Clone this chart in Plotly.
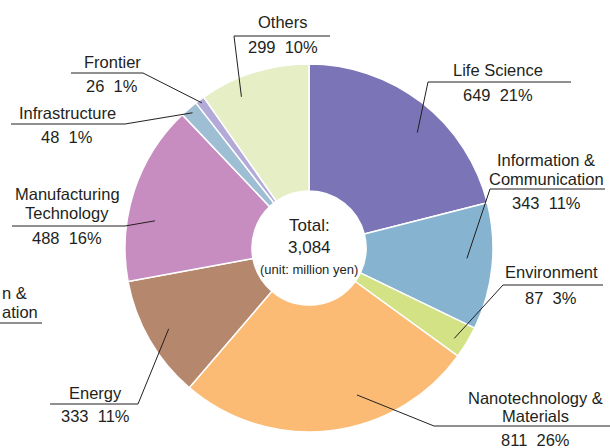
import math
import plotly.graph_objects as go

# ---- data ----
categories = ["Life Science", "Information &<br>Communication", "Environment",
              "Nanotechnology &<br>Materials", "Energy", "Manufacturing<br>Technology",
              "Infrastructure", "Frontier", "Others"]
values = [649, 343, 87, 811, 333, 488, 48, 26, 299]
percents = ["21%", "11%", "3%", "26%", "11%", "16%", "1%", "1%", "10%"]
colors = ["#7B74B6", "#86B4D0", "#D3E284", "#FBBB75", "#B5876C", "#C78DC0",
          "#9EBED3", "#B4AAD8", "#E6EEC6"]
total_text = "3,084"

W, H = 610, 448
CX, CY, R = 309, 248, 184

def px(x):
    return x / W

def py(y):
    return 1 - y / H

fig = go.Figure(go.Pie(
    values=values, labels=categories, sort=False, direction="clockwise", rotation=0,
    hole=0.31, textinfo="none", hoverinfo="label+value",
    marker=dict(colors=colors, line=dict(color="white", width=1.5)),
    domain=dict(x=[px(CX - R), px(CX + R)], y=[py(CY + R), py(CY - R)]),
    showlegend=False,
))

# label layout: (name center x, name line ys, line y, line x0, line x1, anchor x, value y, frac in slice, radius frac)
layout_spec = [
    (498, [70], 82, 428, 571, 428, 95, 0.57, 0.86),
    (546, [160, 179], 189, 490, 605, 490, 203, 0.45, 0.86),
    (551, [272], 285, 503, 603, 503, 298, 0.6, 0.93),
    (535, [398, 416], 426, 434, 610, 434, 440, 0.38, 0.84),
    (95, [393], 404, 50, 138, 138, 416, 0.5, 0.88),
    (67, [194, 213], 226, 12, 125, 125, 238, 0.36, 0.85),
    (67, [113], 124, 11, 125, 125, 137, 0.5, 0.97),
    (112, [62], 73, 71, 143, 143, 86, 0.5, 0.98),
    (283, [22], 36, 234, 330, 234, 47, 0.31, 0.9),
]

tot = sum(values)
angles = []
a = 0.0
for v in values:
    angles.append((a, a + 360.0 * v / tot))
    a += 360.0 * v / tot

FAM = "Liberation Sans, Arial, sans-serif"
font = dict(family=FAM, size=16.5, color="#231F20")
annotations = []
shapes = []
line_style = dict(color="#231F20", width=1)
for i, (cat, spec) in enumerate(zip(categories, layout_spec)):
    nx, nys, ly, lx0, lx1, ax_, vy, frac, rf = spec
    parts = cat.split("<br>")
    for t, yy in zip(parts, nys):
        annotations.append(dict(x=px(nx), y=py(yy), xref="paper", yref="paper", text=t,
                                showarrow=False, xanchor="center", yanchor="middle", font=font))
    annotations.append(dict(x=px(nx), y=py(vy), xref="paper", yref="paper",
                            text=f"{values[i]}  {percents[i]}", showarrow=False,
                            xanchor="center", yanchor="middle", font=font))
    shapes.append(dict(type="line", xref="paper", yref="paper", x0=px(lx0), x1=px(lx1),
                       y0=py(ly), y1=py(ly), line=line_style))
    s, e = angles[i]
    th = math.radians(s + frac * (e - s))
    ex = CX + rf * R * math.sin(th)
    ey = CY - rf * R * math.cos(th)
    shapes.append(dict(type="line", xref="paper", yref="paper", x0=px(ax_), y0=py(ly),
                       x1=px(ex), y1=py(ey), line=line_style))

# centre text
annotations += [
    dict(x=px(CX), y=py(225), xref="paper", yref="paper", text="Total:", showarrow=False,
         font=dict(family=FAM, size=17, color="#231F20")),
    dict(x=px(CX), y=py(247), xref="paper", yref="paper", text=total_text, showarrow=False,
         font=dict(family=FAM, size=17, color="#231F20")),
    dict(x=px(CX), y=py(269), xref="paper", yref="paper", text="(unit: million yen)",
         showarrow=False, font=dict(family=FAM, size=13, color="#231F20")),
]

# partially visible neighbouring label at left edge
annotations += [
    dict(x=px(0), y=py(293), xref="paper", yref="paper", text="n &", showarrow=False,
         xanchor="left", yanchor="middle", font=font),
    dict(x=px(0), y=py(312), xref="paper", yref="paper", text="ation", showarrow=False,
         xanchor="left", yanchor="middle", font=font),
]
shapes.append(dict(type="line", xref="paper", yref="paper", x0=0, x1=px(42),
                   y0=py(323), y1=py(323), line=line_style))

fig.update_layout(width=W, height=H, margin=dict(l=0, r=0, t=0, b=0),
                  paper_bgcolor="white", plot_bgcolor="white",
                  annotations=annotations, shapes=shapes)
fig.write_html("out.html", config={"displayModeBar": False},
               post_script="document.body.style.margin='0';document.body.style.overflow='hidden';")
